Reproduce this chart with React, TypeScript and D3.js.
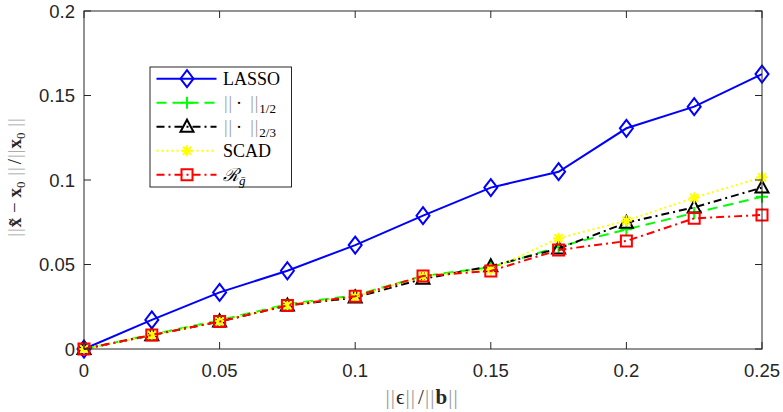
import * as React from "react";
import * as d3 from "d3";

// noise level ||eps|| / ||b||
const noiseLevels = [0, 0.025, 0.05, 0.075, 0.1, 0.125, 0.15, 0.175, 0.2, 0.225, 0.25];

const lassoErr = [0, 0.0172, 0.0335, 0.0463, 0.0615, 0.0789, 0.0955, 0.1049, 0.1306, 0.1434, 0.1627];
const halfErr = [0, 0.0085, 0.017, 0.0265, 0.0318, 0.0432, 0.0483, 0.0605, 0.0708, 0.0805, 0.0901];
const twoThirdErr = [0, 0.0081, 0.0163, 0.0257, 0.0305, 0.0415, 0.049, 0.0595, 0.0747, 0.0838, 0.0955];
const scadErr = [0, 0.0083, 0.0165, 0.026, 0.031, 0.043, 0.047, 0.0655, 0.0759, 0.0895, 0.1016];
const rgErr = [0, 0.0083, 0.0162, 0.0258, 0.0312, 0.0432, 0.0462, 0.0586, 0.0639, 0.0773, 0.0793];

const xTicks = [0, 0.05, 0.1, 0.15, 0.2, 0.25];
const yTicks = [0, 0.05, 0.1, 0.15, 0.2];

type Marker = "diamond" | "plus" | "triangle" | "star" | "square";

interface Series {
  key: string;
  values: number[];
  color: string;
  dash: string | undefined;
  marker: Marker;
}

const series: Series[] = [
  { key: "lasso", values: lassoErr, color: "#0000ff", dash: undefined, marker: "diamond" },
  { key: "half", values: halfErr, color: "#00ff00", dash: "10 6", marker: "plus" },
  { key: "twothird", values: twoThirdErr, color: "#000000", dash: "8 4 2 4", marker: "triangle" },
  { key: "scad", values: scadErr, color: "#ffff00", dash: "2 3", marker: "star" },
  { key: "rg", values: rgErr, color: "#ff0000", dash: "8 4 2 4", marker: "square" },
];

const W = 783, H = 412;
const margin = { left: 84, right: 21, top: 11, bottom: 63 };
const axisColor = "#262626";
const barColor = "#9a9a9a";
const serif = "'Liberation Serif', 'Times New Roman', serif";
const sans = "'Liberation Sans', Arial, sans-serif";

function markerPath(m: Marker): string {
  switch (m) {
    case "diamond":
      return "M0,-8.5L6.5,0L0,8.5L-6.5,0Z";
    case "plus":
      return "M-6,0H6M0,-6V6";
    case "triangle":
      return "M0,-7L6.5,5L-6.5,5Z";
    case "star":
      return "M-5.5,0H5.5M0,-5.5V5.5M-4,-4L4,4M-4,4L4,-4";
    case "square":
      return "M-5.5,-5.5H5.5V5.5H-5.5Z";
  }
}

// a LaTeX-like double bar: two thin bars with some side bearing
const Bars: React.FC<{ fs: number }> = ({ fs }) => (
  <tspan fill={barColor} dx={fs * 0.05} letterSpacing={fs * 0.05}>
    ||
  </tspan>
);

const App: React.FC = () => {
  const x = d3.scaleLinear().domain([0, 0.25]).range([margin.left, W - margin.right]);
  const y = d3.scaleLinear().domain([0, 0.2]).range([H - margin.bottom, margin.top]);
  const [x0, x1] = x.range();
  const [yb, yt] = y.range();
  const tick = 7;

  const lineGen = d3
    .line<number>()
    .x((_, i) => x(noiseLevels[i]))
    .y((d) => y(d));

  const legendX = 150, legendY = 67, rowH = 24;
  const xlabFs = 21;
  const ylabFs = 19;

  return (
    <svg width={W} height={H} style={{ position: "absolute", left: 0, top: 0, background: "#fff" }}>
      <rect x={0} y={0} width={W} height={H} fill="#fff" />

      {/* series */}
      {series.map((s) => (
        <g key={s.key}>
          <path
            d={lineGen(s.values) || ""}
            fill="none"
            stroke={s.color}
            strokeWidth={2}
            strokeDasharray={s.dash}
          />
          {s.values.map((v, i) => (
            <path
              key={i}
              d={markerPath(s.marker)}
              transform={`translate(${x(noiseLevels[i])},${y(v)})`}
              fill="none"
              stroke={s.color}
              strokeWidth={2}
            />
          ))}
        </g>
      ))}

      {/* axes box */}
      <rect x={x0} y={yt} width={x1 - x0} height={yb - yt} fill="none" stroke={axisColor} strokeWidth={1} />
      {xTicks.map((t) => (
        <g key={"x" + t}>
          <line x1={x(t)} x2={x(t)} y1={yb} y2={yb - tick} stroke={axisColor} />
          <line x1={x(t)} x2={x(t)} y1={yt} y2={yt + tick} stroke={axisColor} />
          <text x={x(t)} y={yb + 28} textAnchor="middle" fontFamily={sans} fontSize={18.5} fill={axisColor}>
            {d3.format("~g")(t)}
          </text>
        </g>
      ))}
      {yTicks.map((t) => (
        <g key={"y" + t}>
          <line x1={x0} x2={x0 + tick} y1={y(t)} y2={y(t)} stroke={axisColor} />
          <line x1={x1} x2={x1 - tick} y1={y(t)} y2={y(t)} stroke={axisColor} />
          <text x={x0 - 9} y={y(t) + 6.5} textAnchor="end" fontFamily={sans} fontSize={18.5} fill={axisColor}>
            {d3.format("~g")(t)}
          </text>
        </g>
      ))}

      {/* x label */}
      <text x={(x0 + x1) / 2 - 2} y={404} textAnchor="middle" fontFamily={serif} fontSize={xlabFs} fill={axisColor}>
        <Bars fs={xlabFs} />
        <tspan>ϵ</tspan>
        <Bars fs={xlabFs} />
        <tspan dx={2}>/</tspan>
        <Bars fs={xlabFs} />
        <tspan fontWeight="bold">b</tspan>
        <Bars fs={xlabFs} />
      </text>

      {/* y label */}
      <text
        transform={`translate(21,${(yt + yb) / 2 - 2}) rotate(-90)`}
        textAnchor="middle"
        fontFamily={serif}
        fontSize={ylabFs}
        fill={axisColor}
      >
        <Bars fs={ylabFs} />
        <tspan fontWeight="bold">x̃</tspan>
        <tspan> − </tspan>
        <tspan fontWeight="bold">x</tspan>
        <tspan fontSize={13} dy={4}>0</tspan>
        <tspan dy={-4}> </tspan>
        <Bars fs={ylabFs} />
        <tspan dx={2}>/</tspan>
        <Bars fs={ylabFs} />
        <tspan fontWeight="bold">x</tspan>
        <tspan fontSize={13} dy={4}>0</tspan>
        <tspan dy={-4}> </tspan>
        <Bars fs={ylabFs} />
      </text>

      {/* legend */}
      <rect x={legendX} y={legendY} width={141.5} height={120} fill="#fff" stroke={axisColor} strokeWidth={1} />
      {series.map((s, i) => {
        const cy = legendY + 11.7 + i * rowH;
        return (
          <g key={"leg" + s.key}>
            <line x1={156.5} x2={216.5} y1={cy} y2={cy} stroke={s.color} strokeWidth={2} strokeDasharray={s.dash} />
            <path d={markerPath(s.marker)} transform={`translate(187,${cy})`} fill="none" stroke={s.color} strokeWidth={2} />
          </g>
        );
      })}
      <g fontFamily={serif} fontSize={18} fill="#000">
        <text x={223} y={legendY + 11.7 + 6.5}>LASSO</text>
        <text x={223} y={legendY + 11.7 + rowH + 6.5}>
          <Bars fs={18} />
          <tspan dx={3}>·</tspan>
          <tspan dx={3}> </tspan>
          <Bars fs={18} />
          <tspan fontSize={13} dy={4}>1/2</tspan>
        </text>
        <text x={223} y={legendY + 11.7 + 2 * rowH + 6.5}>
          <Bars fs={18} />
          <tspan dx={3}>·</tspan>
          <tspan dx={3}> </tspan>
          <Bars fs={18} />
          <tspan fontSize={13} dy={4}>2/3</tspan>
        </text>
        <text x={223} y={legendY + 11.7 + 3 * rowH + 6.5}>SCAD</text>
        <text x={223} y={legendY + 11.7 + 4 * rowH + 6.5}>
          <tspan fontStyle="italic">ℛ</tspan>
          <tspan fontSize={13} dy={4} fontStyle="italic">ḡ</tspan>
        </text>
      </g>
    </svg>
  );
};

export default App;
